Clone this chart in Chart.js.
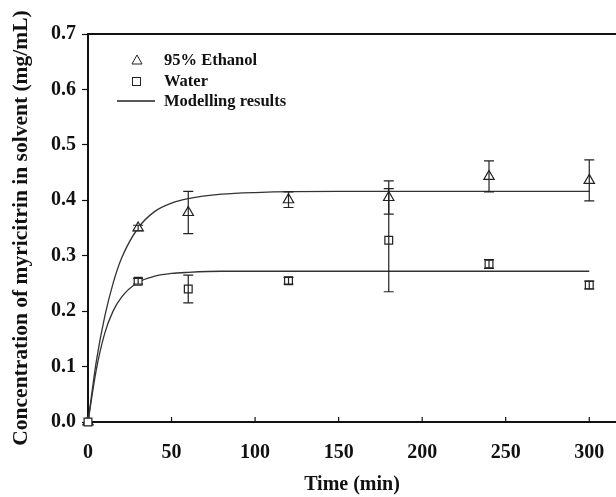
<!DOCTYPE html>
<html>
<head>
<meta charset="utf-8">
<script src="https://cdn.jsdelivr.net/npm/chart.js@4.4.1/dist/chart.umd.min.js"></script>
<style>
  html, body { margin: 0; padding: 0; background: #fff; }
  #wrap { width: 616px; height: 497px; }
</style>
</head>
<body>
<div id="wrap"><canvas id="LineChart"></canvas></div>
<script>
// measured points
var times = [0, 30, 60, 120, 180, 240, 300];
var ethanol = [0, 0.350, 0.378, 0.401, 0.405, 0.443, 0.436];
var ethanolSd = [0, 0.005, 0.038, 0.014, 0.030, 0.028, 0.037];
var water = [0, 0.254, 0.240, 0.255, 0.328, 0.285, 0.247];
var waterSd = [0, 0.005, 0.025, 0.006, 0.093, 0.008, 0.007];

// modelling curves
var modelTimes = [0, 5, 10, 15, 20, 30, 40, 50, 60, 80, 100, 150, 200, 250, 300];
var ethanolModel = [0, 0.110, 0.190, 0.250, 0.295, 0.350, 0.380, 0.395, 0.403, 0.411, 0.414, 0.416, 0.416, 0.416, 0.416];
var waterModel = [0, 0.095, 0.160, 0.200, 0.225, 0.252, 0.263, 0.268, 0.270, 0.272, 0.272, 0.272, 0.272, 0.272, 0.272];

var xTicks = [0, 50, 100, 150, 200, 250, 300];
var yTicks = [0, 0.1, 0.2, 0.3, 0.4, 0.5, 0.6, 0.7];

function pts(xs, ys) {
    return xs.map(function (x, i) { return {x: x, y: ys[i]}; });
}

var ink = '#222';
var serif = 'Liberation Serif, Times New Roman, serif';

var errorBars = {
    id: 'errorBars',
    afterDatasetsDraw: function (chart) {
        var c = chart.ctx, xs = chart.scales.x, ys = chart.scales.y;
        var sets = [[ethanol, ethanolSd], [water, waterSd]];
        c.save();
        c.strokeStyle = ink;
        c.lineWidth = 1.2;
        sets.forEach(function (s) {
            times.forEach(function (t, i) {
                if (!s[1][i]) return;
                var px = xs.getPixelForValue(t);
                var hi = ys.getPixelForValue(s[0][i] + s[1][i]);
                var lo = ys.getPixelForValue(s[0][i] - s[1][i]);
                c.beginPath();
                c.moveTo(px, hi); c.lineTo(px, lo);
                c.moveTo(px - 5, hi); c.lineTo(px + 5, hi);
                c.moveTo(px - 5, lo); c.lineTo(px + 5, lo);
                c.stroke();
            });
        });
        c.restore();
    }
};

var frame = {
    id: 'frame',
    afterDraw: function (chart) {
        var c = chart.ctx, a = chart.chartArea, xs = chart.scales.x;
        c.save();
        c.strokeStyle = '#111';
        c.lineWidth = 2;
        c.beginPath();
        c.moveTo(a.left, a.top); c.lineTo(a.right, a.top);
        c.stroke();
        // inward x ticks
        c.lineWidth = 1.2;
        xTicks.forEach(function (t) {
            if (t === 0) return;
            var px = xs.getPixelForValue(t);
            c.beginPath();
            c.moveTo(px, a.bottom); c.lineTo(px, a.bottom - 5);
            c.stroke();
        });
        // legend
        c.fillStyle = '#111';
        c.font = 'bold 16.5px ' + serif;
        c.textBaseline = 'middle';
        c.fillText('95% Ethanol', 164, 61);
        c.fillText('Water', 164, 82);
        c.fillText('Modelling results', 164, 102);
        c.strokeStyle = ink;
        c.lineWidth = 1;
        c.beginPath();
        c.moveTo(137, 55); c.lineTo(142, 64); c.lineTo(132, 64); c.closePath();
        c.stroke();
        c.strokeRect(132.5, 77.5, 8, 8);
        c.lineWidth = 1.3;
        c.beginPath();
        c.moveTo(117, 101); c.lineTo(155, 101);
        c.stroke();
        c.restore();
    }
};

var data = {
    datasets: [
        {
            label: 'Modelling ethanol',
            data: pts(modelTimes, ethanolModel),
            showLine: true,
            borderColor: '#333',
            borderWidth: 1.3,
            pointRadius: 0,
            cubicInterpolationMode: 'monotone',
            order: 3
        },
        {
            label: 'Modelling water',
            data: pts(modelTimes, waterModel),
            showLine: true,
            borderColor: '#333',
            borderWidth: 1.3,
            pointRadius: 0,
            cubicInterpolationMode: 'monotone',
            order: 2
        },
        {
            label: '95% Ethanol',
            data: pts(times, ethanol),
            pointStyle: 'triangle',
            pointRadius: 6,
            backgroundColor: '#fff',
            borderColor: ink,
            borderWidth: 1.2,
            clip: false,
            order: 1
        },
        {
            label: 'Water',
            data: pts(times, water),
            pointStyle: 'rect',
            pointRadius: 5.5,
            backgroundColor: '#fff',
            borderColor: ink,
            borderWidth: 1.2,
            clip: false,
            order: 0
        }
    ]
};

var options = {
    responsive: true,
    maintainAspectRatio: false,
    animation: false,
    layout: { autoPadding: false, padding: { top: 34, right: 0, left: 0, bottom: 0 } },
    plugins: {
        legend: { display: false },
        title: { display: false },
        tooltip: { enabled: false }
    },
    scales: {
        x: {
            type: 'linear',
            min: 0,
            max: 316,
            afterBuildTicks: function (s) { s.ticks = xTicks.map(function (v) { return {value: v}; }); },
            afterFit: function (s) { s.height = 75; s.paddingRight = 0; s.paddingLeft = 0; },
            border: { color: '#111', width: 2 },
            grid: { display: false },
            ticks: {
                color: '#111',
                padding: 11,
                font: { family: serif, size: 20, weight: 'bold' }
            },
            title: {
                display: true,
                text: 'Time (min)',
                color: '#111',
                padding: { top: 12, bottom: 0 },
                font: { family: serif, size: 20, weight: 'bold' }
            }
        },
        y: {
            min: 0,
            max: 0.7,
            afterBuildTicks: function (s) { s.ticks = yTicks.map(function (v) { return {value: v}; }); },
            afterFit: function (s) { s.width = 88; s.paddingTop = 0; s.paddingBottom = 0; },
            border: { color: '#111', width: 2 },
            grid: { drawOnChartArea: false, tickLength: 6, color: '#111', tickWidth: 1.2 },
            ticks: {
                color: '#111',
                padding: 6,
                font: { family: serif, size: 20, weight: 'bold' },
                callback: function (v) { return v.toFixed(1); }
            },
            title: {
                display: true,
                text: 'Concentration of myricitrin in solvent (mg/mL)',
                color: '#111',
                padding: { bottom: 0, top: 9 },
                font: { family: serif, size: 21.5, weight: 'bold' }
            }
        }
    }
};

var chart = new Chart(document.getElementById('LineChart'), {
    type: 'scatter',
    data: data,
    options: options,
    plugins: [errorBars, frame]
});
</script>
</body>
</html>
